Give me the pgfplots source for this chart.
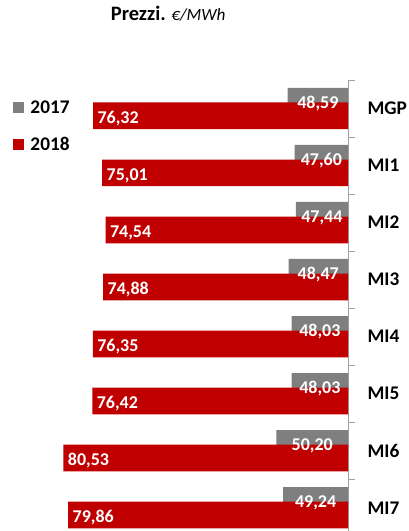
\documentclass[border=0pt]{standalone}
\usepackage{pgfplots}
\pgfplotsset{compat=1.18}
\usepackage{pgfplotstable}
\usepackage{fontspec}
\setmainfont{Carlito}
\definecolor{barred}{RGB}{192,0,0}
\definecolor{bargray}{RGB}{127,127,127}
\definecolor{axgray}{RGB}{160,160,160}
\pgfplotstableread{
idx cat v17 v18
0 MGP 48.59 76.32
1 MI1 47.60 75.01
2 MI2 47.44 74.54
3 MI3 48.47 74.88
4 MI4 48.03 76.35
5 MI5 48.03 76.42
6 MI6 50.20 80.53
7 MI7 49.24 79.86
}\prices
\begin{document}
\begin{tikzpicture}[x=1pt,y=1pt]
\path[use as bounding box] (0,0) rectangle (409,531);
\begin{axis}[
  at={(0pt,0pt)}, anchor=south west,
  scale only axis, width=348pt, height=451pt,
  xmin=-89.57, xmax=-40,
  ymin=-0.5, ymax=7.407, y dir=reverse,
  axis x line=none,
  axis y line*=right,
  y axis line style={draw=axgray, line width=0.8pt, -},
  ytick={0,...,7},
  yticklabels={MGP,MI1,MI2,MI3,MI4,MI5,MI6,MI7},
  major tick length=0pt,
  minor ytick={-0.5,0.5,1.5,2.5,3.5,4.5,5.5,6.5},
  minor tick length=7pt,
  tick align=outside,
  minor tick style={draw=axgray, line width=0.8pt},
  major tick style={draw=none},
  yticklabel style={font=\bfseries\fontsize{19.3}{19.3}\selectfont, anchor=west, inner sep=0pt, xshift=19.3pt},
  legend image code/.code={\fill[#1] (0pt,-5.5pt) rectangle (10.7pt,5.5pt);},
  legend style={at={(0.0382,0.9541)}, anchor=north west, draw=none, fill=none,
    inner sep=0pt, outer sep=0pt, row sep=24.8pt, column sep=6.5pt,
    nodes={inner sep=0pt, text height=12.6pt, text depth=0pt},
    font=\bfseries\fontsize{19.3}{19.3}\selectfont},
  legend cell align=left,
  title={{\bfseries\fontsize{20.5}{20.5}\selectfont Prezzi.}\hspace{5.5pt}{\itshape\fontsize{17.2}{17.2}\selectfont €/MWh}},
  title style={at={(0.3181,1.1182)}, anchor=base west, inner sep=0pt},
]
\addplot[xbar, bar width=26.7pt, bar shift=0pt, fill=bargray, draw=none]
  table[x expr=-\thisrow{v17}, y expr=\thisrow{idx}-0.128]{\prices};
\addlegendentry{2017}
\addplot[xbar, bar width=26.7pt, bar shift=0pt, fill=barred, draw=none]
  table[x expr=-\thisrow{v18}, y expr=\thisrow{idx}+0.128]{\prices};
\addlegendentry{2018}
\addplot[forget plot, draw=none, mark=none, point meta=explicit,
  nodes near coords={\pgfmathprintnumber[fixed,fixed zerofill,precision=2,use comma,assume math mode=true]{\pgfplotspointmeta}},
  every node near coord/.append style={anchor=base, yshift=-7.2pt, inner sep=0pt, text=white, font=\bfseries\fontsize{18}{18}\selectfont}]
  table[x expr=-(\thisrow{v17}+40)/2, y expr=\thisrow{idx}-0.128, meta=v17]{\prices};
\addplot[forget plot, draw=none, mark=none, point meta=explicit,
  nodes near coords={\pgfmathprintnumber[fixed,fixed zerofill,precision=2,use comma,assume math mode=true]{\pgfplotspointmeta}},
  every node near coord/.append style={anchor=base west, xshift=4.3pt, yshift=-7.6pt, inner sep=0pt, text=white, font=\bfseries\fontsize{18}{18}\selectfont}]
  table[x expr=-\thisrow{v18}, y expr=\thisrow{idx}+0.128, meta=v18]{\prices};
\end{axis}
\end{tikzpicture}
\end{document}
